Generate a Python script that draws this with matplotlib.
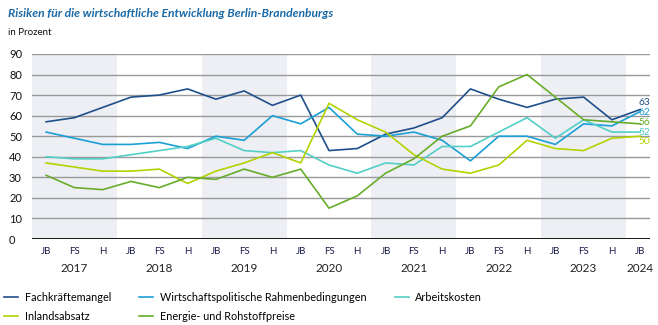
import matplotlib
matplotlib.use('Agg')
import matplotlib.pyplot as plt
from matplotlib.lines import Line2D

plt.rcParams['font.family'] = ['Lato', 'DejaVu Sans']

# Daten (Umfragen: Jahresbeginn, Frühsommer, Herbst)
halbjahr = ['JB', 'FS', 'H'] * 7 + ['JB']
jahre = ['2017', '2018', '2019', '2020', '2021', '2022', '2023', '2024']

fachkraefte = [57, 59, 64, 69, 70, 73, 68, 72, 65, 70, 43, 44, 51, 54, 59, 73, 68, 64, 68, 69, 58, 63]
wirtschaftspolitik = [52, 49, 46, 46, 47, 44, 50, 48, 60, 56, 64, 51, 50, 52, 48, 38, 50, 50, 46, 56, 55, 62]
arbeitskosten = [40, 39, 39, 41, 43, 45, 49, 43, 42, 43, 36, 32, 37, 36, 45, 45, 52, 59, 49, 58, 52, 52]
inlandsabsatz = [37, 35, 33, 33, 34, 27, 33, 37, 42, 37, 66, 58, 52, 41, 34, 32, 36, 48, 44, 43, 49, 50]
energie = [31, 25, 24, 28, 25, 30, 29, 34, 30, 34, 15, 21, 32, 39, 50, 55, 74, 80, 69, 58, 57, 56]

namen = ['Fachkräftemangel', 'Wirtschaftspolitische Rahmenbedingungen', 'Arbeitskosten',
         'Inlandsabsatz', 'Energie- und Rohstoffpreise']
farben = ['#1f4f8a', '#1b9fd4', '#52cfc6', '#b3d300', '#67ad2b']
werte = [fachkraefte, wirtschaftspolitik, arbeitskosten, inlandsabsatz, energie]
# Versatz der Endbeschriftungen in Punkten
end_offset = [5, -0.8, 0, -3.8, 0.8]

fig = plt.figure(figsize=(6.58, 3.25), dpi=100)
ax = fig.add_axes([0.0486, 0.2646, 0.9394, 0.5694])

x = list(range(len(halbjahr)))

# graue Bänder für ungerade Jahre
for i in range(0, 7, 2):
    ax.axvspan(i * 3 - 0.5, i * 3 + 2.5, color='#eeeff4', lw=0, zorder=0)

for y in range(10, 100, 10):
    ax.axhline(y, color='#999999', lw=1, zorder=1)
ax.axhline(0, color='black', lw=2, zorder=3)

for name, farbe, w, off in zip(namen, farben, werte, end_offset):
    ax.plot(x, w, color=farbe, lw=1.2, label=name, zorder=2)
    ax.annotate(str(w[-1]), (x[-1], w[-1]), xytext=(-1, off), textcoords='offset points',
                color=farbe, fontsize=7.3, va='center', ha='left', annotation_clip=False)

ax.set_xlim(-0.5, 21.35)
ax.set_ylim(0, 90)
ax.set_yticks(range(0, 100, 10))
ax.tick_params(axis='y', length=0, labelsize=8, pad=16.5, colors='#111111')
for lbl in ax.get_yticklabels():
    lbl.set_horizontalalignment('left')
ax.set_xticks(x)
ax.set_xticklabels(halbjahr, fontsize=7, color='#1a1a4a')
ax.tick_params(axis='x', length=0, pad=6)
for s in ax.spines.values():
    s.set_visible(False)

# Jahresbeschriftung
for i, jahr in enumerate(jahre):
    pos = i * 3 + 1 if i < 7 else 21
    ax.text(pos, -14.5, jahr, ha='center', va='center', fontsize=8.5, color='#222222')

fig.text(0.012, 0.957, 'Risiken für die wirtschaftliche Entwicklung Berlin-Brandenburgs',
         fontsize=8.7, style='italic', fontweight='bold', color='#1b6aa6', va='center')
fig.text(0.012, 0.9, 'in Prozent', fontsize=7, color='#111111', va='center')

reihenfolge = [0, 3, 1, 4, 2]
handles = [Line2D([], [], color=farben[i], lw=1.2) for i in reihenfolge]
labels = [namen[i] for i in reihenfolge]
fig.legend(handles, labels, ncol=3, loc='upper left', bbox_to_anchor=(0.0, 0.115),
           frameon=False, fontsize=7.8, handlelength=1.3, handletextpad=0.6,
           columnspacing=2.6, labelspacing=0.7, borderaxespad=0)

fig.savefig('out.png', dpi=100)
